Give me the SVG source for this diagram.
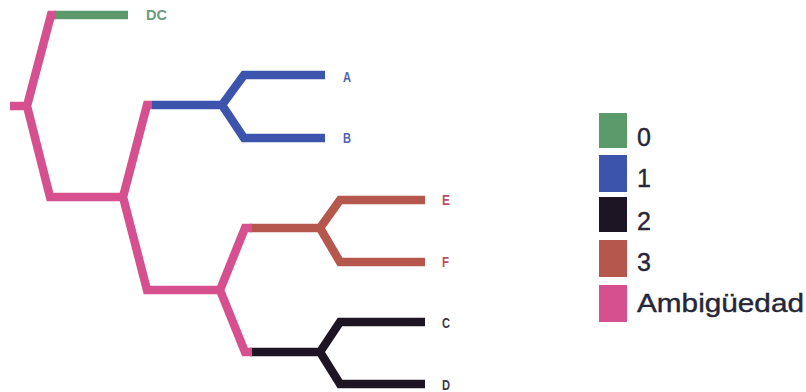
<svg xmlns="http://www.w3.org/2000/svg" width="806" height="392" viewBox="0 0 806 392">
  <style>
    .br { fill: none; stroke-width: 8.5; stroke-linejoin: miter; stroke-linecap: butt; }
    .amb { stroke: #d6508f; }
    .s0 { stroke: #5c9a6c; }
    .s1 { stroke: #3d54ad; }
    .s2 { stroke: #1d1523; }
    .s3 { stroke: #b5574d; }
    .leaf { font-family: "Liberation Sans", Arial, sans-serif; font-size: 14px; font-weight: bold; }
    .key { font-family: "Liberation Sans", Arial, sans-serif; font-size: 25px; fill: #26263a; stroke: #26263a; stroke-width: 0.4; }
  </style>

  <rect width="806" height="392" fill="#ffffff"/>

  <!-- tree branches -->
  <g id="connectors">
    <path class="br s0" d="M54,15 L128,15"/>
    <path class="br s1" d="M152,105 L222,105 L244,75 L325,75 M222,105 L244,138 L325,138"/>
    <path class="br s3" d="M250,228 L320,228 L340,200 L425,200 M320,228 L340,262 L425,262"/>
    <path class="br s2" d="M250,352 L320,352 L340,322 L425,322 M320,352 L340,384 L425,384"/>
    <path class="br amb" d="M10,106 L27,106 M56,15 L51,15 L27,106 L50,197 L123,197 L147,105 L152,105 M123,197 L147,290 L220,290 L245,228 L252,228 M220,290 L245,352 L252,352"/>
  </g>

  <!-- leaf labels -->
  <g id="node-DC"><text class="leaf" x="146" y="20" fill="#6b9a7c" textLength="21" lengthAdjust="spacingAndGlyphs">DC</text></g>
  <g id="node-A"><text class="leaf" x="343" y="82" fill="#4d62b0" textLength="8" lengthAdjust="spacingAndGlyphs">A</text></g>
  <g id="node-B"><text class="leaf" x="343" y="143" fill="#4d62b0" textLength="8" lengthAdjust="spacingAndGlyphs">B</text></g>
  <g id="node-E"><text class="leaf" x="442" y="205" fill="#b8506a" textLength="8" lengthAdjust="spacingAndGlyphs">E</text></g>
  <g id="node-F"><text class="leaf" x="442" y="267" fill="#b8506a" textLength="7" lengthAdjust="spacingAndGlyphs">F</text></g>
  <g id="node-C"><text class="leaf" x="442" y="328" fill="#3a3a48" textLength="8" lengthAdjust="spacingAndGlyphs">C</text></g>
  <g id="node-D"><text class="leaf" x="442" y="390" fill="#3a3a48" textLength="8" lengthAdjust="spacingAndGlyphs">D</text></g>

  <!-- legend -->
  <g id="legend">
    <rect x="599" y="113" width="28" height="35" fill="#5c9a6c"/>
    <rect x="599" y="155" width="28" height="37" fill="#3d54ad"/>
    <rect x="599" y="197" width="28" height="35" fill="#1d1523"/>
    <rect x="599" y="240" width="28" height="37" fill="#b5574d"/>
    <rect x="599" y="285" width="28" height="37" fill="#d6508f"/>
    <text class="key" x="637" y="146">0</text>
    <text class="key" x="637" y="187">1</text>
    <text class="key" x="637" y="230">2</text>
    <text class="key" x="637" y="271">3</text>
    <text class="key" x="637" y="312" textLength="167" lengthAdjust="spacingAndGlyphs">Ambigüedad</text>
  </g>
</svg>
